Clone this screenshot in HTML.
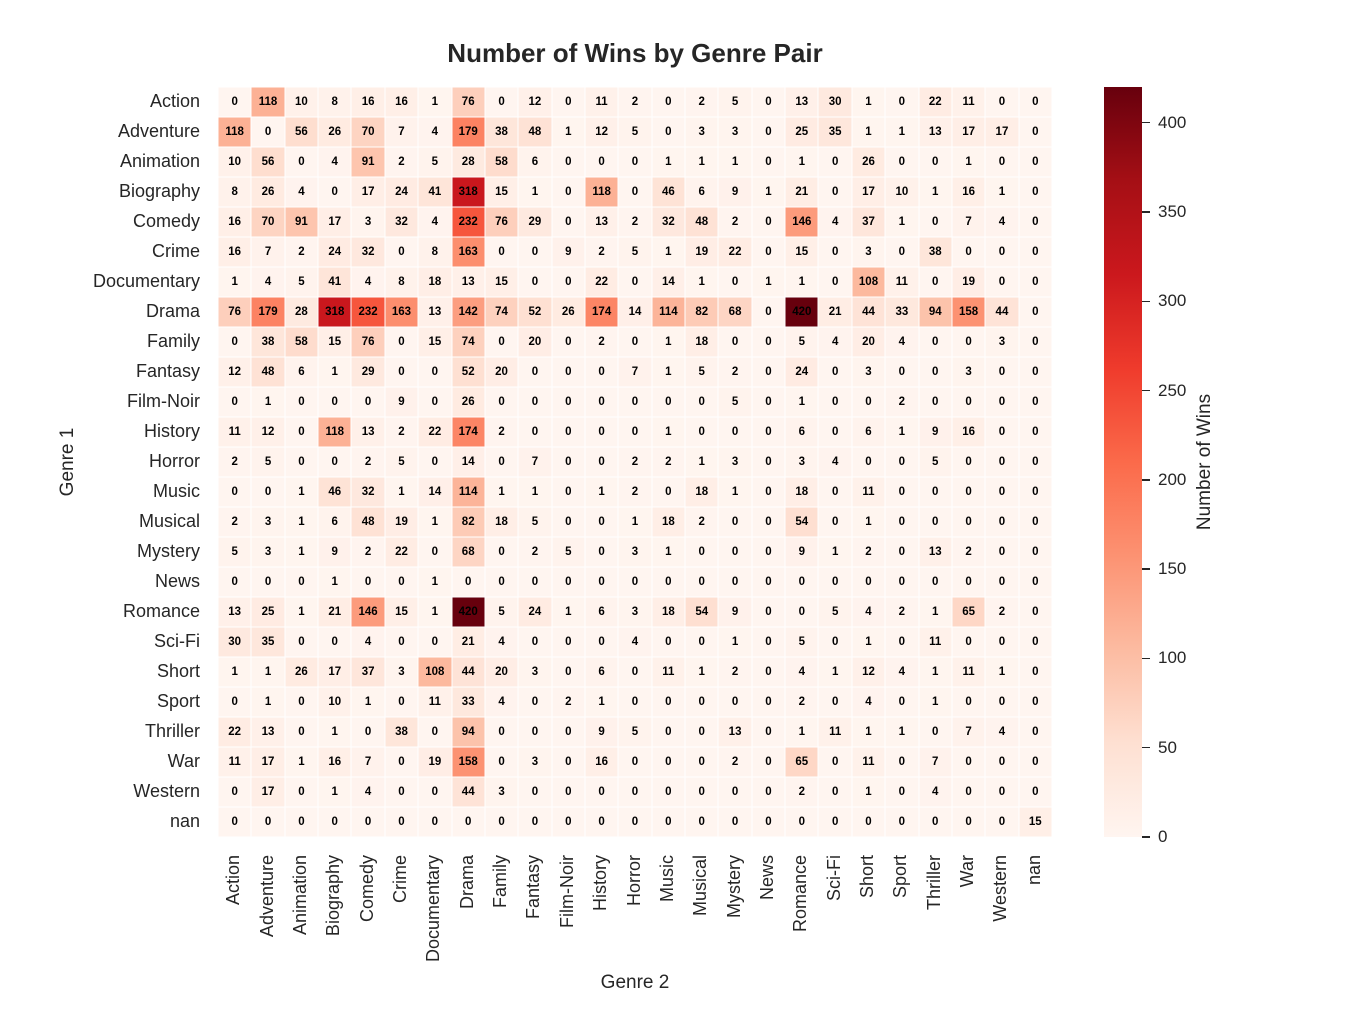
<!DOCTYPE html><html><head><meta charset="utf-8"><style>
body{margin:0;width:1366px;height:1020px;background:#fff;font-family:"Liberation Sans",sans-serif;position:relative;overflow:hidden;color:#262626}
#g{position:absolute;left:218px;top:87px;width:834px;height:750px;display:grid;grid-template-columns:repeat(25,1fr);grid-template-rows:repeat(25,1fr)}
#g i{font-style:normal;font-weight:bold;font-size:11.5px;color:#000;display:flex;align-items:center;justify-content:center;box-shadow:inset 0 0 0 0.5px #fff}
.yl{position:absolute;right:1166px;font-size:18px;line-height:20px;white-space:nowrap}
.xl{position:absolute;top:855px;font-size:18px;white-space:nowrap;transform-origin:0 0;transform:rotate(-90deg) translate(-100%,0)}
.ct{position:absolute;left:1142px;width:8px;height:1.5px;background:#262626}
.cl{position:absolute;left:1158px;font-size:17px;line-height:20px}
</style></head><body>
<div style="position:absolute;top:38px;left:0;width:1270px;text-align:center;font-size:26px;font-weight:bold">Number of Wins by Genre Pair</div>
<div id="g">
<i>0</i><i>118</i><i>10</i><i>8</i><i>16</i><i>16</i><i>1</i><i>76</i><i>0</i><i>12</i><i>0</i><i>11</i><i>2</i><i>0</i><i>2</i><i>5</i><i>0</i><i>13</i><i>30</i><i>1</i><i>0</i><i>22</i><i>11</i><i>0</i><i>0</i>
<i>118</i><i>0</i><i>56</i><i>26</i><i>70</i><i>7</i><i>4</i><i>179</i><i>38</i><i>48</i><i>1</i><i>12</i><i>5</i><i>0</i><i>3</i><i>3</i><i>0</i><i>25</i><i>35</i><i>1</i><i>1</i><i>13</i><i>17</i><i>17</i><i>0</i>
<i>10</i><i>56</i><i>0</i><i>4</i><i>91</i><i>2</i><i>5</i><i>28</i><i>58</i><i>6</i><i>0</i><i>0</i><i>0</i><i>1</i><i>1</i><i>1</i><i>0</i><i>1</i><i>0</i><i>26</i><i>0</i><i>0</i><i>1</i><i>0</i><i>0</i>
<i>8</i><i>26</i><i>4</i><i>0</i><i>17</i><i>24</i><i>41</i><i>318</i><i>15</i><i>1</i><i>0</i><i>118</i><i>0</i><i>46</i><i>6</i><i>9</i><i>1</i><i>21</i><i>0</i><i>17</i><i>10</i><i>1</i><i>16</i><i>1</i><i>0</i>
<i>16</i><i>70</i><i>91</i><i>17</i><i>3</i><i>32</i><i>4</i><i>232</i><i>76</i><i>29</i><i>0</i><i>13</i><i>2</i><i>32</i><i>48</i><i>2</i><i>0</i><i>146</i><i>4</i><i>37</i><i>1</i><i>0</i><i>7</i><i>4</i><i>0</i>
<i>16</i><i>7</i><i>2</i><i>24</i><i>32</i><i>0</i><i>8</i><i>163</i><i>0</i><i>0</i><i>9</i><i>2</i><i>5</i><i>1</i><i>19</i><i>22</i><i>0</i><i>15</i><i>0</i><i>3</i><i>0</i><i>38</i><i>0</i><i>0</i><i>0</i>
<i>1</i><i>4</i><i>5</i><i>41</i><i>4</i><i>8</i><i>18</i><i>13</i><i>15</i><i>0</i><i>0</i><i>22</i><i>0</i><i>14</i><i>1</i><i>0</i><i>1</i><i>1</i><i>0</i><i>108</i><i>11</i><i>0</i><i>19</i><i>0</i><i>0</i>
<i>76</i><i>179</i><i>28</i><i>318</i><i>232</i><i>163</i><i>13</i><i>142</i><i>74</i><i>52</i><i>26</i><i>174</i><i>14</i><i>114</i><i>82</i><i>68</i><i>0</i><i>420</i><i>21</i><i>44</i><i>33</i><i>94</i><i>158</i><i>44</i><i>0</i>
<i>0</i><i>38</i><i>58</i><i>15</i><i>76</i><i>0</i><i>15</i><i>74</i><i>0</i><i>20</i><i>0</i><i>2</i><i>0</i><i>1</i><i>18</i><i>0</i><i>0</i><i>5</i><i>4</i><i>20</i><i>4</i><i>0</i><i>0</i><i>3</i><i>0</i>
<i>12</i><i>48</i><i>6</i><i>1</i><i>29</i><i>0</i><i>0</i><i>52</i><i>20</i><i>0</i><i>0</i><i>0</i><i>7</i><i>1</i><i>5</i><i>2</i><i>0</i><i>24</i><i>0</i><i>3</i><i>0</i><i>0</i><i>3</i><i>0</i><i>0</i>
<i>0</i><i>1</i><i>0</i><i>0</i><i>0</i><i>9</i><i>0</i><i>26</i><i>0</i><i>0</i><i>0</i><i>0</i><i>0</i><i>0</i><i>0</i><i>5</i><i>0</i><i>1</i><i>0</i><i>0</i><i>2</i><i>0</i><i>0</i><i>0</i><i>0</i>
<i>11</i><i>12</i><i>0</i><i>118</i><i>13</i><i>2</i><i>22</i><i>174</i><i>2</i><i>0</i><i>0</i><i>0</i><i>0</i><i>1</i><i>0</i><i>0</i><i>0</i><i>6</i><i>0</i><i>6</i><i>1</i><i>9</i><i>16</i><i>0</i><i>0</i>
<i>2</i><i>5</i><i>0</i><i>0</i><i>2</i><i>5</i><i>0</i><i>14</i><i>0</i><i>7</i><i>0</i><i>0</i><i>2</i><i>2</i><i>1</i><i>3</i><i>0</i><i>3</i><i>4</i><i>0</i><i>0</i><i>5</i><i>0</i><i>0</i><i>0</i>
<i>0</i><i>0</i><i>1</i><i>46</i><i>32</i><i>1</i><i>14</i><i>114</i><i>1</i><i>1</i><i>0</i><i>1</i><i>2</i><i>0</i><i>18</i><i>1</i><i>0</i><i>18</i><i>0</i><i>11</i><i>0</i><i>0</i><i>0</i><i>0</i><i>0</i>
<i>2</i><i>3</i><i>1</i><i>6</i><i>48</i><i>19</i><i>1</i><i>82</i><i>18</i><i>5</i><i>0</i><i>0</i><i>1</i><i>18</i><i>2</i><i>0</i><i>0</i><i>54</i><i>0</i><i>1</i><i>0</i><i>0</i><i>0</i><i>0</i><i>0</i>
<i>5</i><i>3</i><i>1</i><i>9</i><i>2</i><i>22</i><i>0</i><i>68</i><i>0</i><i>2</i><i>5</i><i>0</i><i>3</i><i>1</i><i>0</i><i>0</i><i>0</i><i>9</i><i>1</i><i>2</i><i>0</i><i>13</i><i>2</i><i>0</i><i>0</i>
<i>0</i><i>0</i><i>0</i><i>1</i><i>0</i><i>0</i><i>1</i><i>0</i><i>0</i><i>0</i><i>0</i><i>0</i><i>0</i><i>0</i><i>0</i><i>0</i><i>0</i><i>0</i><i>0</i><i>0</i><i>0</i><i>0</i><i>0</i><i>0</i><i>0</i>
<i>13</i><i>25</i><i>1</i><i>21</i><i>146</i><i>15</i><i>1</i><i>420</i><i>5</i><i>24</i><i>1</i><i>6</i><i>3</i><i>18</i><i>54</i><i>9</i><i>0</i><i>0</i><i>5</i><i>4</i><i>2</i><i>1</i><i>65</i><i>2</i><i>0</i>
<i>30</i><i>35</i><i>0</i><i>0</i><i>4</i><i>0</i><i>0</i><i>21</i><i>4</i><i>0</i><i>0</i><i>0</i><i>4</i><i>0</i><i>0</i><i>1</i><i>0</i><i>5</i><i>0</i><i>1</i><i>0</i><i>11</i><i>0</i><i>0</i><i>0</i>
<i>1</i><i>1</i><i>26</i><i>17</i><i>37</i><i>3</i><i>108</i><i>44</i><i>20</i><i>3</i><i>0</i><i>6</i><i>0</i><i>11</i><i>1</i><i>2</i><i>0</i><i>4</i><i>1</i><i>12</i><i>4</i><i>1</i><i>11</i><i>1</i><i>0</i>
<i>0</i><i>1</i><i>0</i><i>10</i><i>1</i><i>0</i><i>11</i><i>33</i><i>4</i><i>0</i><i>2</i><i>1</i><i>0</i><i>0</i><i>0</i><i>0</i><i>0</i><i>2</i><i>0</i><i>4</i><i>0</i><i>1</i><i>0</i><i>0</i><i>0</i>
<i>22</i><i>13</i><i>0</i><i>1</i><i>0</i><i>38</i><i>0</i><i>94</i><i>0</i><i>0</i><i>0</i><i>9</i><i>5</i><i>0</i><i>0</i><i>13</i><i>0</i><i>1</i><i>11</i><i>1</i><i>1</i><i>0</i><i>7</i><i>4</i><i>0</i>
<i>11</i><i>17</i><i>1</i><i>16</i><i>7</i><i>0</i><i>19</i><i>158</i><i>0</i><i>3</i><i>0</i><i>16</i><i>0</i><i>0</i><i>0</i><i>2</i><i>0</i><i>65</i><i>0</i><i>11</i><i>0</i><i>7</i><i>0</i><i>0</i><i>0</i>
<i>0</i><i>17</i><i>0</i><i>1</i><i>4</i><i>0</i><i>0</i><i>44</i><i>3</i><i>0</i><i>0</i><i>0</i><i>0</i><i>0</i><i>0</i><i>0</i><i>0</i><i>2</i><i>0</i><i>1</i><i>0</i><i>4</i><i>0</i><i>0</i><i>0</i>
<i>0</i><i>0</i><i>0</i><i>0</i><i>0</i><i>0</i><i>0</i><i>0</i><i>0</i><i>0</i><i>0</i><i>0</i><i>0</i><i>0</i><i>0</i><i>0</i><i>0</i><i>0</i><i>0</i><i>0</i><i>0</i><i>0</i><i>0</i><i>0</i><i>15</i>
</div>
<div class="yl" style="top:91px">Action</div><div class="yl" style="top:121px">Adventure</div><div class="yl" style="top:151px">Animation</div><div class="yl" style="top:181px">Biography</div><div class="yl" style="top:211px">Comedy</div><div class="yl" style="top:241px">Crime</div><div class="yl" style="top:271px">Documentary</div><div class="yl" style="top:301px">Drama</div><div class="yl" style="top:331px">Family</div><div class="yl" style="top:361px">Fantasy</div><div class="yl" style="top:391px">Film-Noir</div><div class="yl" style="top:421px">History</div><div class="yl" style="top:451px">Horror</div><div class="yl" style="top:481px">Music</div><div class="yl" style="top:511px">Musical</div><div class="yl" style="top:541px">Mystery</div><div class="yl" style="top:571px">News</div><div class="yl" style="top:601px">Romance</div><div class="yl" style="top:631px">Sci-Fi</div><div class="yl" style="top:661px">Short</div><div class="yl" style="top:691px">Sport</div><div class="yl" style="top:721px">Thriller</div><div class="yl" style="top:751px">War</div><div class="yl" style="top:781px">Western</div><div class="yl" style="top:811px">nan</div>
<div id="xls"><div class="xl">Action</div><div class="xl">Adventure</div><div class="xl">Animation</div><div class="xl">Biography</div><div class="xl">Comedy</div><div class="xl">Crime</div><div class="xl">Documentary</div><div class="xl">Drama</div><div class="xl">Family</div><div class="xl">Fantasy</div><div class="xl">Film-Noir</div><div class="xl">History</div><div class="xl">Horror</div><div class="xl">Music</div><div class="xl">Musical</div><div class="xl">Mystery</div><div class="xl">News</div><div class="xl">Romance</div><div class="xl">Sci-Fi</div><div class="xl">Short</div><div class="xl">Sport</div><div class="xl">Thriller</div><div class="xl">War</div><div class="xl">Western</div><div class="xl">nan</div></div>
<div style="position:absolute;top:972px;left:0;width:1270px;text-align:center;font-size:19px">Genre 2</div>
<div style="position:absolute;left:56px;top:462px;font-size:19px;transform:translate(-50%,-50%) rotate(-90deg);white-space:nowrap;margin-left:12px">Genre 1</div>
<div style="position:absolute;left:1104px;top:87px;width:38px;height:750px;background:linear-gradient(to top,#fff5f0 0%,#fee0d2 12.5%,#fcbba1 25%,#fc9272 37.5%,#fb6a4a 50%,#ef3b2c 62.5%,#cb181d 75%,#a50f15 87.5%,#67000d 100%)"></div>
<div id="cb"></div>
<div style="position:absolute;left:1205px;top:462px;font-size:19px;transform:translate(-50%,-50%) rotate(-90deg);white-space:nowrap">Number of Wins</div>
<script>
var st=[[255,245,240],[254,224,210],[252,187,161],[252,146,114],[251,106,74],[239,59,44],[203,24,29],[165,15,21],[103,0,13]];
function col(v){var t=Math.min(v/420,1)*8,i=Math.min(Math.floor(t),7),f=t-i,a=st[i],b=st[i+1];return 'rgb('+[0,1,2].map(function(k){return Math.round(a[k]+(b[k]-a[k])*f)}).join(',')+')';}
document.querySelectorAll('#g i').forEach(function(e){e.style.background=col(+e.textContent)});
document.querySelectorAll('.xl').forEach(function(e,j){e.style.left=(218+33.36*(j+0.5)-11.5)+'px'});
var cb=document.getElementById('cb'),h='';
for(var v=0;v<=400;v+=50){var y=837-v*750/420;h+='<div class="ct" style="top:'+(y-0.75)+'px"></div><div class="cl" style="top:'+(y-10)+'px">'+v+'</div>';}
cb.innerHTML=h;
</script>
</body></html>
